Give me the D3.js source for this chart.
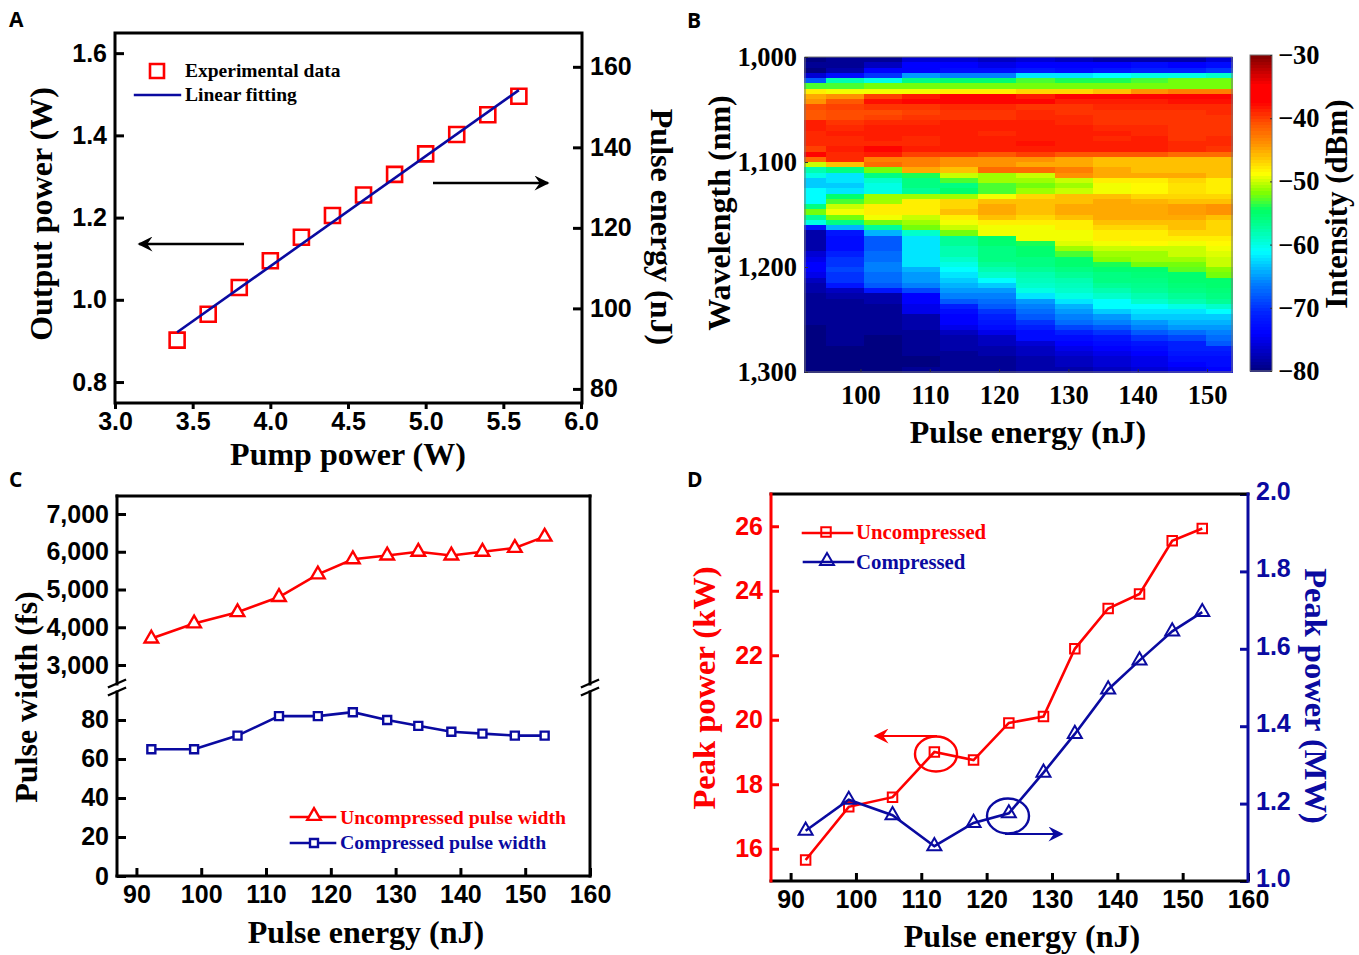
<!DOCTYPE html>
<html>
<head>
<meta charset="utf-8">
<script src="https://cdn.jsdelivr.net/npm/d3@7"></script>
<style>
	html, body { margin: 0; padding: 0; background: #fff; }
	svg { display: block; }
	.serif { font-family: "Liberation Serif", serif; font-weight: bold; }
	.tick text { font-family: "Liberation Sans", sans-serif; font-weight: bold; font-size: 25px; }
	.heat .tick text, .cbar .tick text { font-family: "Liberation Serif", serif; font-size: 26.5px; }
	.letter { font-family: "Open Sans", sans-serif; font-weight: bold; font-size: 21px; }
</style>
</head>
<body>
<div id="chart"></div>
<script>
// panel A
var pump = [3.4, 3.6, 3.8, 4.0, 4.2, 4.4, 4.6, 4.8, 5.0, 5.2, 5.4, 5.6];
var output = [0.902, 0.965, 1.03, 1.095, 1.152, 1.205, 1.255, 1.305, 1.355, 1.402, 1.45, 1.495];
var fitX = [3.4, 5.6];
var fitY = [0.921, 1.51];

// panels C and D share the pulse energies
var energy = [92.3, 98.9, 105.6, 112, 118, 123.4, 128.7, 133.5, 138.6, 143.4, 148.4, 153];
var widthUncompressed = [3700, 4100, 4400, 4800, 5400, 5800, 5900, 6000, 5900, 6000, 6100, 6400];
var widthCompressed = [65, 65, 72, 82, 82, 84, 80, 77, 74, 73, 72, 72];
var peakUncompressed = [15.65, 17.3, 17.6, 19.0, 18.75, 19.9, 20.1, 22.2, 23.45, 23.9, 25.55, 25.93];
var peakCompressed = [1.13, 1.21, 1.17, 1.09, 1.15, 1.175, 1.28, 1.38, 1.495, 1.57, 1.645, 1.695];

// panel B, column edges in nJ and one row of dBm per 5 nm from 1,000 nm down
var columnEdges = [91.9, 95, 100.5, 106, 111.5, 117, 122.5, 128, 133.6, 139, 144.4, 149.9, 153.6];
var wavelengthStart = 1000;
var wavelengthStep = 5;
var spectra = [
	[-80,-79,-79,-76,-76,-77,-76,-77,-78,-78,-78,-76],
	[-79,-79,-77,-74,-74,-75,-74,-74,-74,-73,-74,-73],
	[-80,-78,-74,-74,-73,-73,-72,-73,-72,-71,-71,-70],
	[-76,-73,-70,-65,-66,-66,-62,-62,-61,-60,-60,-59],
	[-68,-58,-60,-56,-55,-55,-53,-54,-54,-53,-52,-52],
	[-53,-53,-52,-52,-52,-52,-52,-52,-52,-52,-52,-52],
	[-48,-49,-49,-49,-48,-48,-47,-47,-46,-44,-43,-43],
	[-45,-44,-40,-38.5,-37.5,-37.5,-38.5,-37.5,-37.5,-37.5,-37.5,-37.5],
	[-44,-41,-38,-37.5,-37.5,-37.5,-37.5,-38.5,-38.5,-38.5,-38,-38],
	[-40.5,-40,-39.5,-39.5,-39,-39,-39.5,-39.5,-39,-39,-39,-39],
	[-41,-40.5,-40.5,-40,-39.5,-39.5,-39,-39.5,-39.5,-39.5,-39.5,-39],
	[-41,-40.5,-40,-39.5,-39.5,-39.5,-39,-39,-39.5,-39.5,-39.5,-39.5],
	[-38.5,-39.5,-39,-39,-38.5,-38.5,-38.5,-39,-39.5,-39.5,-39.5,-39.5],
	[-38.5,-39,-38.5,-38.5,-38.5,-38.5,-38.5,-38.5,-39,-39,-39.5,-39.5],
	[-39,-38.5,-38.5,-38.5,-38.5,-39,-38.5,-38.5,-38.5,-39,-39.5,-39.5],
	[-39,-39,-38.5,-39,-38.5,-38.5,-38.5,-38.5,-39,-38.5,-39.5,-39],
	[-39,-39,-39,-39,-38.5,-38.5,-38,-38.5,-38.5,-38.5,-39,-39],
	[-40,-38.5,-37.5,-38.5,-38.5,-38.5,-38.5,-38.5,-38.5,-38.5,-39,-39.5],
	[-37.5,-39,-38.5,-40,-40,-41,-40,-41,-41,-41,-42,-42],
	[-42,-39,-43,-43,-44,-44,-44,-45,-46,-46,-46,-46],
	[-50,-46,-42,-43,-44,-44,-45,-45,-46,-46,-46,-46],
	[-58,-56,-52,-45,-46,-42,-42,-43,-45,-46,-46,-46],
	[-60,-62,-56,-54,-50,-51,-50,-44,-45,-45,-45,-46],
	[-63,-62,-59,-56,-53,-51,-51,-50,-48,-48,-47,-48],
	[-63,-63,-60,-56,-56,-53,-52,-51,-49,-48.5,-47.5,-48],
	[-61,-62,-60,-57,-55,-53,-51,-50,-49,-48.5,-47.5,-48],
	[-61,-55,-51,-51,-51,-49,-47,-46,-46,-47,-47,-47],
	[-61,-53,-51,-48,-47,-46,-46,-46,-45,-45.5,-46,-46],
	[-56,-50,-48,-48,-47,-45,-46,-45,-45,-45,-44.5,-44],
	[-52,-49,-48,-48,-46,-45,-46,-45,-45,-45,-44.5,-44],
	[-57,-52,-49,-50,-48,-46,-47,-46,-45,-45,-45,-46],
	[-60,-56,-52,-51,-49,-48,-48,-48,-46,-46,-46,-47],
	[-72,-64,-57,-52,-50,-49,-49,-48,-47,-47,-46,-47],
	[-78,-72,-64,-59,-52,-49,-49,-49,-48,-48,-47,-47],
	[-78,-73,-68,-62,-57,-55,-49,-49,-48,-48,-48,-48],
	[-78,-73,-68,-62,-57,-55,-54,-49.5,-49,-48.5,-49,-48.5],
	[-78,-73,-68,-62,-58,-56,-55,-51,-50,-50,-50,-49],
	[-76,-71,-67,-62,-58,-56,-55,-53,-51,-51,-50,-49.5],
	[-75,-70,-67,-62,-59,-56,-56,-55,-51.5,-51,-51,-50],
	[-74,-70,-66,-62,-60,-57,-56,-55,-54,-52,-52,-50],
	[-74,-69,-66,-64,-61,-58,-57,-56,-55,-55,-52.5,-51.5],
	[-75,-70,-67,-65,-62,-59,-58,-57,-56,-55.5,-55,-52],
	[-77,-70,-67,-65,-63,-61,-58.5,-58,-56,-56,-55,-55],
	[-78,-72,-68,-66,-64,-63,-59,-58.5,-57,-56.5,-55.5,-55],
	[-78,-77,-72,-69,-65,-65,-60,-59,-58,-57,-56,-55.5],
	[-79,-78,-78,-74,-66,-66,-62,-60,-59,-58,-57,-56],
	[-79,-79,-78,-74,-68,-67,-65,-62,-61,-59,-58,-57],
	[-79,-79,-79,-75,-71,-68,-66,-64,-61,-61,-60,-59],
	[-79,-79,-79,-75,-73,-70,-67,-65,-63,-62,-62,-61],
	[-79,-79,-79,-78,-74,-71,-68,-66,-65,-63,-63,-63],
	[-79,-79,-79,-78,-74,-72,-70,-67,-66,-65,-64,-64],
	[-80,-79,-79,-78,-75,-73,-71,-69,-68,-66,-65,-65],
	[-80,-79,-79,-79,-77,-75,-73,-71,-70,-68,-67,-66],
	[-80,-79,-80,-79,-78,-77,-73,-73,-72,-70,-69,-67],
	[-80,-79,-80,-79,-78,-77,-76,-74,-73,-72,-71,-68],
	[-80,-80,-80,-79,-78,-78,-77,-75,-74,-73,-71,-71],
	[-80,-80,-80,-79,-79,-78,-77,-76,-75,-74,-72,-72],
	[-80,-80,-80,-80,-79,-79,-78,-77,-76,-75,-73,-73],
	[-80,-80,-80,-80,-79,-79,-78,-77,-76,-75,-74,-73],
	[-80,-80,-80,-79,-79,-79,-78,-78,-77,-76,-75,-74]
];

// colour bar of panel B
var jetLevels = [-80, -74, -71, -66, -61, -57, -54.5, -53.3, -51.7, -48.7, -44.2, -40.6, -37.4, -34.7, -30];
var jetColors = ["#000080", "#0000ff", "#001eff", "#0080ff", "#00ffff", "#00ff96", "#00ff64", "#3cff3c", "#80ff00", "#ffff00", "#ff9600", "#ff5000", "#ff0000", "#ff0000", "#800000"];

// tick labels
var outputTicks = [0.8, 1.0, 1.2, 1.4, 1.6];
var pumpTicks = [3.0, 3.5, 4.0, 4.5, 5.0, 5.5, 6.0];
var pulseEnergyTicks = [80, 100, 120, 140, 160];
var energyTicks = [90, 100, 110, 120, 130, 140, 150, 160];
var heatEnergyTicks = [100, 110, 120, 130, 140, 150];
var wavelengthTicks = [1000, 1100, 1200, 1300];
var intensityTicks = [-30, -40, -50, -60, -70, -80];
var upperWidthTicks = [3000, 4000, 5000, 6000, 7000];
var lowerWidthTicks = [0, 20, 40, 60, 80];
var peakKwTicks = [16, 18, 20, 22, 24, 26];
var peakMwTicks = [1.0, 1.2, 1.4, 1.6, 1.8, 2.0];

var RED = "#fe0000";
var BLUE = "#0a0aa0";

var width = 1359;
var height = 955;

var svg = d3.select("#chart").append("svg")
	.attr("width", width)
	.attr("height", height);

var defs = svg.append("defs");
[["black", "#000"], ["red", RED], ["blue", BLUE]].forEach(function(m) {
	defs.append("marker")
		.attr("id", "arrow-" + m[0])
		.attr("viewBox", "0 0 10 10")
		.attr("refX", 9).attr("refY", 5)
		.attr("markerUnits", "userSpaceOnUse")
		.attr("markerWidth", 17).attr("markerHeight", 15)
		.attr("orient", "auto")
		.append("path")
		.attr("d", "M0,0 L10,5 L0,10 L3.5,5 Z")
		.attr("fill", m[1]);
});

function letter(t, x, y) {
	svg.append("text").attr("class", "letter").attr("x", x).attr("y", y).text(t);
}

function title(t, x, y, size, color, rotate) {
	var el = svg.append("text")
		.attr("class", "serif")
		.attr("text-anchor", "middle")
		.attr("font-size", size)
		.attr("fill", color || "#000")
		.text(t);
	if (rotate) {
		el.attr("transform", "translate(" + x + "," + y + ") rotate(" + rotate + ")");
	} else {
		el.attr("x", x).attr("y", y);
	}
	return el;
}

function legendText(t, x, y, size, color) {
	svg.append("text").attr("class", "serif")
		.attr("x", x).attr("y", y)
		.attr("font-size", size)
		.attr("fill", color)
		.text(t);
}

function drawAxis(axis, dx, dy, color, w) {
	var g = svg.append("g")
		.attr("transform", "translate(" + dx + "," + dy + ")")
		.call(axis);
	g.select(".domain").remove();
	g.selectAll("line").attr("stroke", color).attr("stroke-width", w || 3);
	g.selectAll("text").attr("fill", color);
	return g;
}

function edge(x1, y1, x2, y2, color, w) {
	svg.append("line")
		.attr("x1", x1).attr("y1", y1).attr("x2", x2).attr("y2", y2)
		.attr("stroke", color).attr("stroke-width", w || 3)
		.attr("stroke-linecap", "square");
}

function arrow(x1, y1, x2, y2, name, color, w) {
	svg.append("line")
		.attr("x1", x1).attr("y1", y1).attr("x2", x2).attr("y2", y2)
		.attr("stroke", color).attr("stroke-width", w)
		.attr("marker-end", "url(#arrow-" + name + ")");
}

function series(xs, ys, xScale, yScale, color, w) {
	var line = d3.line()
		.x(function(d) { return xScale(d[0]); })
		.y(function(d) { return yScale(d[1]); });
	svg.append("path")
		.datum(d3.zip(xs, ys))
		.attr("d", line)
		.attr("fill", "none")
		.attr("stroke", color)
		.attr("stroke-width", w);
}

function markers(xs, ys, xScale, yScale, type, size, color, fill, w) {
	svg.append("g").selectAll("path")
		.data(d3.zip(xs, ys))
		.enter().append("path")
		.attr("d", d3.symbol().type(type).size(size))
		.attr("transform", function(d) { return "translate(" + xScale(d[0]) + "," + yScale(d[1]) + ")"; })
		.attr("fill", fill)
		.attr("stroke", color)
		.attr("stroke-width", w);
}

function oneMarker(x, y, type, size, color, fill, w) {
	svg.append("path")
		.attr("d", d3.symbol().type(type).size(size))
		.attr("transform", "translate(" + x + "," + y + ")")
		.attr("fill", fill)
		.attr("stroke", color)
		.attr("stroke-width", w);
}

/* A */
function panelA() {
	var L = 115, R = 582, T = 33, B = 403;
	var x = d3.scaleLinear().domain([3, 6]).range([L, 581]);
	var y = d3.scaleLinear().domain([0.749, 1.649]).range([B, T]);
	var yRight = d3.scaleLinear().domain([76.5, 168.4]).range([B, T]);

	drawAxis(d3.axisLeft(y).tickValues(outputTicks).tickFormat(d3.format(".1f")).tickSize(-9).tickPadding(8), L, 0, "#000");
	drawAxis(d3.axisRight(yRight).tickValues(pulseEnergyTicks).tickSize(-9).tickPadding(8), R, 0, "#000");
	drawAxis(d3.axisBottom(x).tickValues(pumpTicks).tickFormat(d3.format(".1f")).tickSize(6).tickPadding(3), 0, B, "#000");
	svg.append("rect").attr("x", L).attr("y", T).attr("width", R - L).attr("height", B - T)
		.attr("fill", "none").attr("stroke", "#000").attr("stroke-width", 3);

	markers(pump, output, x, y, d3.symbolSquare, 225, RED, "none", 2.6);
	series(fitX, fitY, x, y, BLUE, 2.6);

	arrow(433, 183, 548, 183, "black", "#000", 2.4);
	arrow(244, 244, 139, 244, "black", "#000", 2.4);

	oneMarker(157, 71, d3.symbolSquare, 196, RED, "none", 2.6);
	legendText("Experimental data", 185, 77, 19.5, "#000");
	edge(135, 95, 180, 95, BLUE, 2.4);
	legendText("Linear fitting", 185, 101, 19.5, "#000");

	title("Output power (W)", 52, 214, 32, "#000", -90);
	title("Pulse energy (nJ)", 651, 227, 32, "#000", 90);
	title("Pump power (W)", 348, 465, 32);
}

/* B */
function panelB() {
	var L = 805, R = 1232, T = 57, B = 372;
	var x = d3.scaleLinear().domain([92, 153.6]).range([L, R]);
	var y = d3.scaleLinear().domain([1000, 1300]).range([T, B]);
	var jet = d3.scaleLinear()
		.domain(jetLevels)
		.range(jetColors)
		.clamp(true);

	var cells = [];
	spectra.forEach(function(row, i) {
		row.forEach(function(v, j) {
			cells.push({ row: i, col: j, value: v });
		});
	});

	svg.append("g").selectAll("rect")
		.data(cells)
		.enter().append("rect")
		.attr("x", function(d) { return x(columnEdges[d.col]); })
		.attr("width", function(d) { return x(columnEdges[d.col + 1]) - x(columnEdges[d.col]) + 0.5; })
		.attr("y", function(d) { return y(wavelengthStart + wavelengthStep * d.row); })
		.attr("height", function(d) { return y(wavelengthStart + wavelengthStep) - y(wavelengthStart) + 0.5; })
		.attr("fill", function(d) { return jet(d.value); })
		.attr("shape-rendering", "crispEdges");

	svg.append("rect").attr("x", L).attr("y", T).attr("width", R - L).attr("height", B - T)
		.attr("fill", "none").attr("stroke", "#777").attr("stroke-width", 1);

	drawAxis(d3.axisLeft(y).tickValues(wavelengthTicks).tickFormat(d3.format(",")).tickSize(-3).tickPadding(8), L, 0, "#333", 1)
		.attr("class", "heat");
	drawAxis(d3.axisBottom(x).tickValues(heatEnergyTicks).tickSize(-3).tickPadding(13), 0, B, "#333", 1)
		.attr("class", "heat");
	svg.selectAll(".heat text").attr("fill", "#000");

	// colour bar, half a dB per strip
	var cb = d3.scaleLinear().domain([-80, -30]).range([371, 55]);
	svg.append("g").selectAll("rect")
		.data(d3.range(-80, -30, 0.5))
		.enter().append("rect")
		.attr("x", 1250).attr("width", 22)
		.attr("y", function(d) { return cb(d + 0.5); })
		.attr("height", function(d) { return cb(d) - cb(d + 0.5) + 0.5; })
		.attr("fill", function(d) { return jet(d + 0.25); })
		.attr("shape-rendering", "crispEdges");
	svg.append("rect").attr("x", 1250).attr("y", 55).attr("width", 22).attr("height", 316)
		.attr("fill", "none").attr("stroke", "#777").attr("stroke-width", 1);
	var cbAxis = drawAxis(d3.axisRight(cb).tickValues(intensityTicks).tickSize(-2).tickPadding(6), 1272, 0, "#333", 1)
		.attr("class", "cbar");
	cbAxis.selectAll("text").attr("fill", "#000");

	title("Wavelength (nm)", 730, 213, 32, "#000", -90);
	title("Intensity (dBm)", 1347, 204, 31, "#000", -90);
	title("Pulse energy (nJ)", 1028, 443, 32);
}

/* C */
function panelC() {
	var L = 117, R = 590, T = 496, B = 876, BREAK = 688;
	var x = d3.scaleLinear().domain([87, 160]).range([L, R]);
	var yUp = d3.scaleLinear().domain([2391, 7477]).range([BREAK, T]);
	var yLow = d3.scaleLinear().domain([0, 96.4]).range([B, BREAK]);

	drawAxis(d3.axisLeft(yUp).tickValues(upperWidthTicks).tickFormat(d3.format(",")).tickSize(-9).tickPadding(8), L, 0, "#000");
	drawAxis(d3.axisLeft(yLow).tickValues(lowerWidthTicks).tickSize(-9).tickPadding(8), L, 0, "#000");
	drawAxis(d3.axisBottom(x).tickValues(energyTicks).tickSize(-8).tickPadding(9), 0, B, "#000");

	edge(L, T, R, T, "#000");
	edge(L, B, R, B, "#000");
	edge(L, T, L, BREAK - 4, "#000");
	edge(L, BREAK + 4, L, B, "#000");
	edge(R, T, R, BREAK - 4, "#000");
	edge(R, BREAK + 4, R, B, "#000");
	[L, R].forEach(function(s) {
		edge(s - 8, BREAK - 1, s + 8, BREAK - 8, "#000", 2.4);
		edge(s - 8, BREAK + 7, s + 8, BREAK, "#000", 2.4);
	});

	series(energy, widthUncompressed, x, yUp, RED, 2.6);
	markers(energy, widthUncompressed, x, yUp, d3.symbolTriangle, 80, RED, "#fff", 2.4);
	series(energy, widthCompressed, x, yLow, BLUE, 2.6);
	markers(energy, widthCompressed, x, yLow, d3.symbolSquare, 64, BLUE, "#fff", 2.4);

	edge(291, 817, 335, 817, RED, 2.6);
	oneMarker(314, 816, d3.symbolTriangle, 80, RED, "#fff", 2.4);
	legendText("Uncompressed pulse width", 340, 824, 19.8, RED);
	edge(291, 843, 335, 843, BLUE, 2.6);
	oneMarker(314, 843, d3.symbolSquare, 64, BLUE, "#fff", 2.4);
	legendText("Compressed pulse width", 340, 849, 19.8, BLUE);

	title("Pulse width (fs)", 37, 697, 32, "#000", -90);
	title("Pulse energy (nJ)", 366, 943, 32);
}

/* D */
function panelD() {
	var L = 771, R = 1248, T = 494, B = 881;
	var x = d3.scaleLinear().domain([87, 160]).range([L, R]);
	var yLeft = d3.scaleLinear().domain([15, 27]).range([B, T]);
	var yRight = d3.scaleLinear().domain([1, 2]).range([B, T]);

	drawAxis(d3.axisLeft(yLeft).tickValues(peakKwTicks).tickSize(-8).tickPadding(8), L, 0, RED);
	var right = drawAxis(d3.axisRight(yRight).tickValues(peakMwTicks).tickFormat(d3.format(".1f")).tickSize(-8).tickPadding(8), R, 0, BLUE);
	right.selectAll("text").attr("dy", "0.22em");
	drawAxis(d3.axisBottom(x).tickValues(energyTicks).tickSize(-8).tickPadding(9), 0, B, "#000");

	edge(L, T, R, T, "#000");
	edge(L, B, R, B, "#000");
	edge(L, T, L, B, RED);
	edge(R, T, R, B, BLUE);

	series(energy, peakUncompressed, x, yLeft, RED, 2.6);
	markers(energy, peakUncompressed, x, yLeft, d3.symbolSquare, 90, RED, "none", 2);
	series(energy, peakCompressed, x, yRight, BLUE, 2.6);
	markers(energy, peakCompressed, x, yRight, d3.symbolTriangle, 85, BLUE, "none", 2);

	svg.append("ellipse").attr("cx", 936).attr("cy", 754).attr("rx", 21).attr("ry", 17.5)
		.attr("fill", "none").attr("stroke", RED).attr("stroke-width", 2.4);
	svg.append("ellipse").attr("cx", 1008).attr("cy", 816).attr("rx", 21).attr("ry", 17.5)
		.attr("fill", "none").attr("stroke", BLUE).attr("stroke-width", 2.4);
	arrow(937, 736, 875, 736, "red", RED, 2);
	arrow(1005, 834, 1062, 834, "blue", BLUE, 2);

	edge(803, 533, 852, 533, RED, 2.6);
	oneMarker(826, 532, d3.symbolSquare, 90, RED, "none", 2);
	legendText("Uncompressed", 856, 539, 20.8, RED);
	edge(804, 562, 853, 562, BLUE, 2.6);
	oneMarker(827, 561, d3.symbolTriangle, 85, BLUE, "none", 2);
	legendText("Compressed", 856, 569, 20.8, BLUE);

	title("Peak power (kW)", 715, 688, 32.5, RED, -90);
	title("Peak power (MW)", 1305, 696, 32.5, BLUE, 90);
	title("Pulse energy (nJ)", 1022, 947, 32);
}

letter("A", 9, 27);
letter("B", 687, 28);
letter("C", 9, 487);
letter("D", 687, 487);

panelA();
panelB();
panelC();
panelD();
</script>
</body>
</html>
